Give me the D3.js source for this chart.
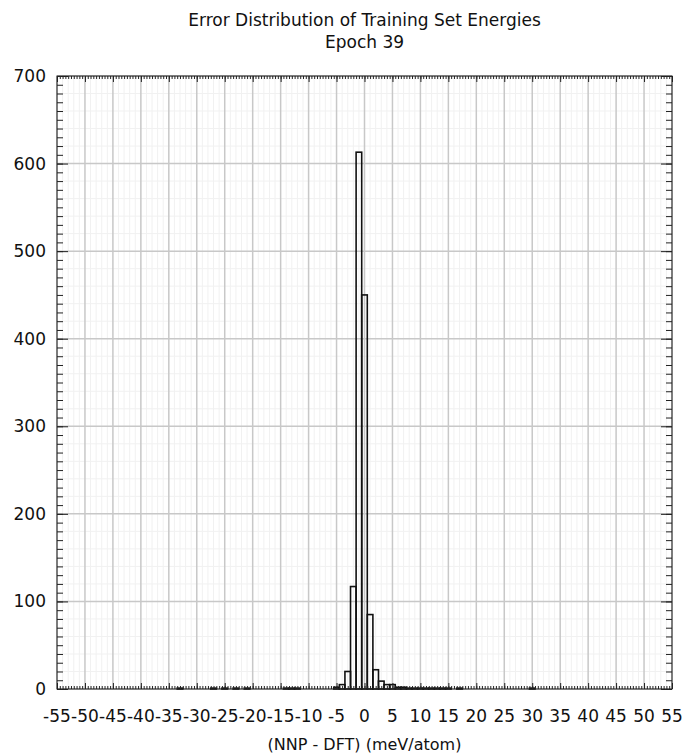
<!DOCTYPE html>
<html>
<head>
<meta charset="utf-8">
<script src="https://cdn.jsdelivr.net/npm/d3@7"></script>
<style>
  body { margin: 0; background: #fff; }
  text { font-family: "DejaVu Sans", sans-serif; fill: #111; }
</style>
</head>
<body>
<div id="chart"></div>
<script>
// histogram bins (bin centre in meV/atom, width 1) and counts
var binCenters = [-33, -27, -25, -23, -21, -14, -13, -12, -5, -4, -3, -2, -1, 0, 1, 2, 3, 4, 5, 6, 7, 8, 9, 10, 11, 12, 13, 14, 15, 17, 30];
var binCounts  = [  1,   1,   1,   1,   1,   1,   1,   1,  2,  5, 20, 117, 613, 450, 85, 22, 9, 5, 5, 2, 2, 1, 1, 1, 1, 1, 1, 1, 1, 1, 1];
var binWidth = 1;
var xTicks = d3.range(-55, 56, 5);
var yTicks = d3.range(0, 701, 100);
var titleLines = ["Error Distribution of Training Set Energies", "Epoch 39"];
var xLabel = "(NNP - DFT) (meV/atom)";

var W = 684, H = 755;
var margin = {top: 76, right: 12, bottom: 66, left: 57};
var width = W - margin.left - margin.right,
    height = H - margin.top - margin.bottom;

var svg = d3.select("#chart").append("svg")
    .attr("width", W).attr("height", H);

var g = svg.append("g").attr("transform", "translate(" + margin.left + "," + margin.top + ")");

var x = d3.scaleLinear().domain([-55, 55]).range([0, width]);
var y = d3.scaleLinear().domain([0, 700]).range([height, 0]);

//minor grid
g.append("g").selectAll("line.mx")
  .data(d3.range(-55, 56, 1).filter(function(d) { return d % 5 !== 0; }))
  .enter().append("line")
  .attr("x1", function(d) { return x(d); }).attr("x2", function(d) { return x(d); })
  .attr("y1", 0).attr("y2", height)
  .attr("stroke", "#f1f1f1").attr("stroke-width", 1);
g.append("g").selectAll("line.my")
  .data(d3.range(0, 701, 20).filter(function(d) { return d % 100 !== 0; }))
  .enter().append("line")
  .attr("y1", function(d) { return y(d); }).attr("y2", function(d) { return y(d); })
  .attr("x1", 0).attr("x2", width)
  .attr("stroke", "#f1f1f1").attr("stroke-width", 1);

//major grid
g.append("g").selectAll("line")
  .data(xTicks).enter().append("line")
  .attr("x1", function(d) { return x(d); }).attr("x2", function(d) { return x(d); })
  .attr("y1", 0).attr("y2", height)
  .attr("stroke", "#c8c8c8").attr("stroke-width", 1.5);
g.append("g").selectAll("line")
  .data(yTicks).enter().append("line")
  .attr("y1", function(d) { return y(d); }).attr("y2", function(d) { return y(d); })
  .attr("x1", 0).attr("x2", width)
  .attr("stroke", "#c8c8c8").attr("stroke-width", 1.5);

//bars
var bins = binCenters.map(function(c, i) { return {c: c, n: binCounts[i]}; });
g.append("g").selectAll("rect")
  .data(bins).enter().append("rect")
  .attr("x", function(d) { return x(d.c - binWidth / 2); })
  .attr("width", function(d) { return x(d.c + binWidth / 2) - x(d.c - binWidth / 2); })
  .attr("y", function(d) { return y(d.n); })
  .attr("height", function(d) { return height - y(d.n); })
  .attr("fill", "none")
  .attr("stroke", "#111")
  .attr("stroke-width", 1.6);

//axes: ticks inside on all four sides
function noLabels() { return ""; }
var xMinor = d3.range(-55, 55.01, 0.5);
var yMinor = d3.range(0, 701, 10);

g.append("g").attr("transform", "translate(0," + height + ")")
  .call(d3.axisTop(x).tickValues(xMinor).tickSize(3).tickFormat(noLabels));
g.append("g").attr("transform", "translate(0," + height + ")")
  .call(d3.axisTop(x).tickValues(xTicks).tickSize(6).tickFormat(noLabels));
g.append("g")
  .call(d3.axisBottom(x).tickValues(xMinor).tickSize(3).tickFormat(noLabels));
g.append("g")
  .call(d3.axisBottom(x).tickValues(xTicks).tickSize(6).tickFormat(noLabels));
g.append("g")
  .call(d3.axisRight(y).tickValues(yMinor).tickSize(6).tickFormat(noLabels));
g.append("g")
  .call(d3.axisRight(y).tickValues(yTicks).tickSize(11).tickFormat(noLabels));
g.append("g").attr("transform", "translate(" + width + ",0)")
  .call(d3.axisLeft(y).tickValues(yMinor).tickSize(6).tickFormat(noLabels));
g.append("g").attr("transform", "translate(" + width + ",0)")
  .call(d3.axisLeft(y).tickValues(yTicks).tickSize(11).tickFormat(noLabels));
g.selectAll(".domain").remove();
g.selectAll(".tick line").attr("stroke", "#222").attr("stroke-width", 1);

//frame
g.append("rect").attr("width", width).attr("height", height)
  .attr("fill", "none").attr("stroke", "#222").attr("stroke-width", 1);

//tick labels
g.append("g").selectAll("text")
  .data(xTicks).enter().append("text")
  .attr("x", function(d) { return x(d); })
  .attr("y", height + 33)
  .attr("text-anchor", "middle")
  .style("font-size", "17px")
  .text(function(d) { return d; });
g.append("g").selectAll("text")
  .data(yTicks).enter().append("text")
  .attr("x", -11)
  .attr("y", function(d) { return y(d); })
  .attr("dy", "0.35em")
  .attr("text-anchor", "end")
  .style("font-size", "17px")
  .text(function(d) { return d; });

//title + label
svg.append("g").selectAll("text")
  .data(titleLines).enter().append("text")
  .attr("x", margin.left + width / 2)
  .attr("y", function(d, i) { return 26 + i * 22; })
  .attr("text-anchor", "middle")
  .style("font-size", "17px")
  .text(function(d) { return d; });
svg.append("text")
  .attr("x", margin.left + width / 2)
  .attr("y", H - 5)
  .attr("text-anchor", "middle")
  .style("font-size", "16px")
  .text(xLabel);
</script>
</body>
</html>
